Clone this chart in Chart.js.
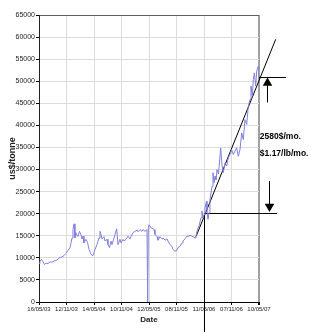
<!DOCTYPE html>
<html>
<head>
<meta charset="utf-8">
<script src="https://cdn.jsdelivr.net/npm/chart.js@4/dist/chart.umd.min.js"></script>
<style>
html,body{margin:0;padding:0;background:#fff;}
canvas{display:block;}
</style>
</head>
<body>
<canvas id="c" width="311" height="332"></canvas>
<script>
// x values are in half-year steps since 16/05/03 (one tick label per step)
const tickLabels = ["16/05/03","12/11/03","14/05/04","10/11/04","12/05/05","08/11/05","11/05/06","07/11/06","10/05/07"];
const yTicks = [0,5000,10000,15000,20000,25000,30000,35000,40000,45000,50000,55000,60000,65000];

const priceX = [0,0.036,0.091,0.145,0.2,0.255,0.327,0.4,0.473,0.545,0.618,0.691,0.764,0.836,0.909,0.982,1.055,1.127,1.164,1.2,1.236,1.273,1.309,1.345,1.382,1.418,1.473,1.527,1.564,1.6,1.636,1.709,1.764,1.818,1.891,1.964,2.036,2.109,2.182,2.218,2.255,2.291,2.364,2.4,2.473,2.509,2.564,2.618,2.655,2.727,2.825,2.873,2.945,2.982,3.055,3.091,3.164,3.236,3.309,3.345,3.418,3.491,3.564,3.6,3.673,3.745,3.782,3.855,3.927,3.953,3.975,4.0,4.073,4.145,4.182,4.218,4.291,4.327,4.4,4.473,4.509,4.582,4.655,4.691,4.764,4.836,4.873,4.945,5.018,5.055,5.127,5.2,5.236,5.309,5.382,5.418,5.491,5.564,5.6,5.673,5.709,5.764,5.818,5.891,5.927,5.964,6.0,6.036,6.091,6.109,6.145,6.182,6.218,6.255,6.291,6.327,6.364,6.4,6.436,6.473,6.527,6.607,6.655,6.702,6.764,6.825,6.884,6.945,7.007,7.065,7.127,7.189,7.247,7.309,7.371,7.429,7.491,7.553,7.611,7.673,7.709,7.756,7.793,7.829,7.88,7.916,7.975,8.0];
const priceY = [8700,9200,9700,9100,8500,8800,8700,9100,9000,9300,9400,9700,10100,10200,10500,11000,11700,12300,13400,14500,16400,17700,14500,15700,15000,14900,16000,15200,14300,14900,13400,14200,13500,11900,10800,10500,11900,13000,14500,16000,15300,14300,14800,13800,14200,13000,12300,13800,13000,14500,16600,13000,14200,13400,14200,13800,14200,14900,14300,14800,15700,16000,16300,15900,16400,16000,16400,16000,16400,0,16800,17500,16800,16600,16400,15300,14800,14000,14800,14300,14500,14000,14300,13800,13000,12600,11900,11500,11700,12300,12600,13400,13800,14300,14900,14800,15100,14900,14800,14500,14900,16500,17200,19100,20600,19000,19800,21300,22800,20900,18700,20200,23200,24700,26200,29300,27000,28500,27700,30000,29000,34900,31000,29300,31500,30800,32700,33400,34500,33400,34200,34900,33000,34500,38300,36800,41300,40200,44300,45900,48900,46600,50400,51900,48900,52300,53400,51000];

// annotation lines (trend and rate markers)
const trendX = [5.709, 8.607];
const trendY = [14800, 59500];
const lowLevel = 20044;
const highLevel = 50845;
const rateLines = ["2580$/mo.", "$1.17/lb/mo."];

const pts = (xs, ys) => xs.map((x, i) => ({x, y: ys[i]}));
const black = '#000';
const lineDs = (data, extra) => Object.assign({
  type: 'line', data, borderColor: black, borderWidth: 1, pointRadius: 0,
  fill: false, clip: false, tension: 0
}, extra || {});

const ARROW_SETS = [5, 6];
const overlayPlugin = {
  id: 'overlay',
  afterDatasetsDraw(chart) {
    const {ctx, scales} = chart;
    ctx.save();
    // arrow heads lie outside the chart area; draw the library's point elements without area clipping
    ARROW_SETS.forEach(i => chart.getDatasetMeta(i).data.forEach(p => p.draw(ctx)));
    ctx.fillStyle = '#000';
    ctx.font = 'bold 8.5px "Liberation Sans", Arial, sans-serif';
    ctx.textAlign = 'left';
    ctx.textBaseline = 'middle';
    const x = scales.x.getPixelForValue(8.03);
    ctx.fillText(rateLines[0], x, scales.y.getPixelForValue(37500));
    ctx.fillText(rateLines[1], x, scales.y.getPixelForValue(33600));
    ctx.restore();
  }
};

const fam = '"Liberation Sans", Arial, sans-serif';

new Chart(document.getElementById('c'), {
  type: 'line',
  data: {
    datasets: [
      lineDs(pts(priceX, priceY), {borderColor: 'rgb(128,128,220)', clip: true}),
      lineDs(pts(trendX, trendY)),
      lineDs([{x: 6.036, y: lowLevel}, {x: 8.655, y: lowLevel}]),
      lineDs([{x: 8.0, y: highLevel}, {x: 8.982, y: highLevel}]),
      lineDs([{x: 6.018, y: lowLevel}, {x: 6.018, y: -6700}]),
      lineDs([{x: 8.309, y: 45200}, {x: 8.309, y: 49600}], {
        pointRadius: [0, 5.5], pointStyle: 'triangle', pointBackgroundColor: black, pointBorderColor: black, pointBorderWidth: 0, pointRotation: 0
      }),
      lineDs([{x: 8.382, y: 27300}, {x: 8.382, y: 21630}], {
        pointRadius: [0, 5.5], pointStyle: 'triangle', pointBackgroundColor: black, pointBorderColor: black, pointBorderWidth: 0, pointRotation: 180
      })
    ]
  },
  options: {
    responsive: false,
    animation: false,
    devicePixelRatio: 1,
    layout: {padding: {left: 0, right: 52, top: 15, bottom: 0}},
    plugins: {legend: {display: false}, tooltip: {enabled: false}},
    elements: {line: {borderJoinStyle: 'round'}},
    scales: {
      x: {
        type: 'linear', min: 0, max: 8,
        afterFit(s) { s.height = 30; },
        afterBuildTicks(s) { s.ticks = tickLabels.map((_, i) => ({value: i})); },
        ticks: {
          autoSkip: false, maxRotation: 0, padding: 1,
          color: '#222', font: {family: fam, size: 6},
          callback: v => tickLabels[v]
        },
        grid: {
          color: ctx => ctx.tick && ctx.tick.value === 8 ? '#a0a0a0' : '#dcdcdc',
          lineWidth: ctx => ctx.tick && ctx.tick.value === 8 ? 2 : 1,
          tickColor: '#000', tickLength: 3
        },
        border: {color: '#000', width: 1},
        title: {display: true, text: 'Date', color: '#222', padding: {top: 0, bottom: 7},
          font: {family: fam, size: 8, weight: 'bold'}}
      },
      y: {
        type: 'linear', min: 0, max: 65000,
        afterFit(s) { s.width = 39; },
        afterBuildTicks(s) { s.ticks = yTicks.map(v => ({value: v})); },
        ticks: {padding: 1, color: '#222', font: {family: fam, size: 7}, callback: v => String(v)},
        grid: {
          color: ctx => ctx.tick && ctx.tick.value === 65000 ? '#606060' : '#dcdcdc',
          tickColor: '#000', tickLength: 3
        },
        border: {color: '#222', width: 1},
        title: {display: true, text: 'us$/tonne', color: '#222', padding: {top: 7, bottom: 0},
          font: {family: fam, size: 9, weight: 'bold'}}
      }
    }
  },
  plugins: [overlayPlugin]
});
</script>
</body>
</html>
